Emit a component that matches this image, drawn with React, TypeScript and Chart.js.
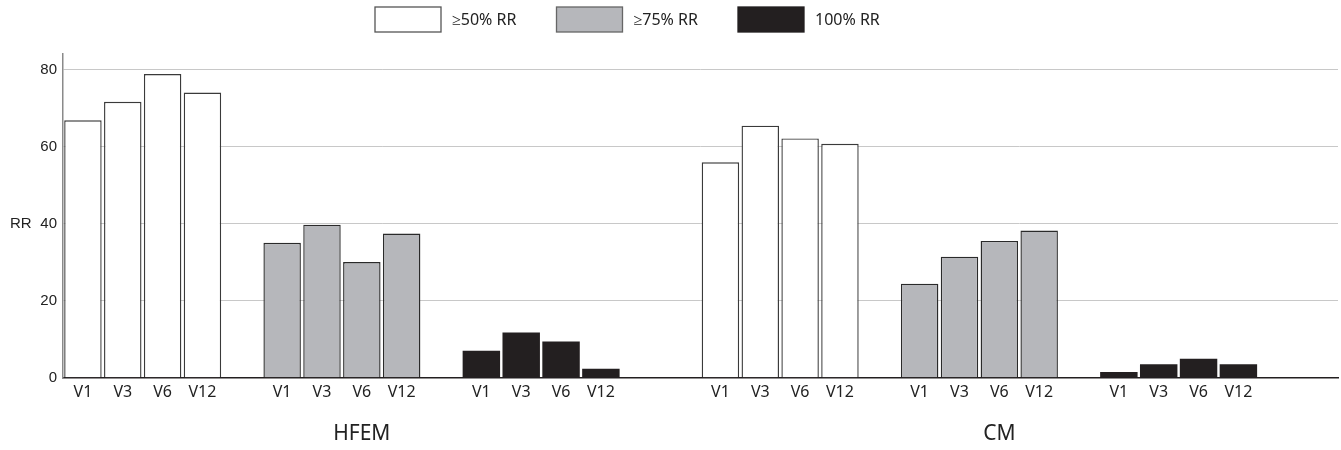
import React, { useEffect, useRef } from "react";
import { Chart, registerables } from "chart.js";

Chart.register(...registerables);

// ---- data ----
const groups = ["HFEM", "CM"];
const visits = ["V1", "V3", "V6", "V12"];
const seriesLabels = ["≥50% RR", "≥75% RR", "100% RR"];
const hfem50 = [66.8, 71.6, 78.8, 74.0];
const hfem75 = [35.0, 39.7, 30.0, 37.4];
const hfem100 = [7.0, 11.7, 9.4, 2.3];
const cm50 = [55.9, 65.4, 62.1, 60.7];
const cm75 = [24.4, 31.4, 35.5, 38.2];
const cm100 = [1.5, 3.5, 4.9, 3.5];
const yTicks = [0, 20, 40, 60, 80];
const yAxisTitle = "RR";

// ---- styles ----
const fills = ["#ffffff", "#b6b7bb", "#231f20"];
const borders = ["#3a3a3a", "#2a2a2a", "#231f20"];

// ---- build category slots (empty slots form the gaps) ----
const seriesValues = [
  [hfem50, cm50],
  [hfem75, cm75],
  [hfem100, cm100],
];
const labels: string[] = [];
const seriesData: (number | null)[][] = [[], [], []];
const groupSpans: { name: string; first: number; last: number }[] = [];
const pushGap = (n: number) => {
  for (let i = 0; i < n; i++) {
    labels.push("");
    seriesData.forEach((d) => d.push(null));
  }
};
groups.forEach((g, gi) => {
  if (gi > 0) pushGap(2);
  const first = labels.length;
  seriesLabels.forEach((_, si) => {
    if (si > 0) pushGap(1);
    visits.forEach((v, vi) => {
      labels.push(v);
      seriesData.forEach((d, di) => d.push(di === si ? seriesValues[si][gi][vi] : null));
    });
  });
  groupSpans.push({ name: g, first, last: labels.length - 1 });
});
pushGap(2);

const decorPlugin = {
  id: "decor",
  afterDraw(chart: any) {
    const ctx = chart.ctx;
    const x = chart.scales.x;
    const y = chart.scales.y;
    ctx.save();
    // legend
    const boxW = 66;
    const boxH = 25;
    const startX = 375;
    const pitch = 181.5;
    const top = 7;
    chart.data.datasets.forEach((ds: any, i: number) => {
      const bx = startX + i * pitch;
      ctx.fillStyle = ds.backgroundColor;
      ctx.fillRect(bx, top, boxW, boxH);
      ctx.lineWidth = 1.3;
      ctx.strokeStyle = i === 0 ? "#555" : i === 1 ? "#666" : ds.backgroundColor;
      ctx.strokeRect(bx, top, boxW, boxH);
      ctx.fillStyle = "#222";
      ctx.font = "16px 'Noto Sans'";
      ctx.textAlign = "left";
      ctx.textBaseline = "middle";
      ctx.fillText(ds.label, bx + boxW + 11, top + boxH / 2 + 1);
    });
    // y axis title (horizontal)
    ctx.font = "15px 'Liberation Sans'";
    ctx.fillStyle = "#222";
    ctx.textAlign = "left";
    ctx.textBaseline = "middle";
    ctx.fillText(yAxisTitle, 10, y.getPixelForValue(40));
    // group labels
    ctx.font = "21px 'Noto Sans'";
    ctx.textAlign = "center";
    groupSpans.forEach((gs) => {
      const cx = (x.getPixelForValue(gs.first) + x.getPixelForValue(gs.last + 1)) / 2;
      ctx.fillText(gs.name, cx, 434);
    });
    ctx.restore();
  },
};

export default function App() {
  const ref = useRef<HTMLCanvasElement | null>(null);
  useEffect(() => {
    document.body.style.margin = "0";
    if (!ref.current) return;
    const chart = new Chart(ref.current, {
      type: "bar",
      data: {
        labels,
        datasets: seriesLabels.map((lab, i) => ({
          label: lab,
          data: seriesData[i],
          backgroundColor: fills[i],
          borderColor: borders[i],
          borderWidth: i === 2 ? 0 : 1.4,
          grouped: false,
          barPercentage: 0.94,
          categoryPercentage: 1,
        })),
      },
      options: {
        responsive: false,
        animation: false,
        layout: { padding: { top: 54, right: 3, left: 0, bottom: 0 } },
        plugins: {
          legend: { display: false },
          tooltip: { enabled: false },
        },
        scales: {
          x: {
            type: "category",
            grid: { display: false, drawTicks: false },
            border: { display: true, color: "#231f20", width: 1.5 },
            ticks: {
              autoSkip: false,
              maxRotation: 0,
              minRotation: 0,
              padding: 5,
              color: "#222",
              font: { family: "'Noto Sans'", size: 16 },
            },
            afterFit: (s: any) => {
              s.height = 72.3;
            },
          },
          y: {
            min: 0,
            max: 84,
            grid: { color: "#c8c8c8", lineWidth: 1, drawTicks: false },
            border: { display: true, color: "#8a8a8a", width: 1.5 },
            ticks: {
              padding: 6,
              color: "#222",
              font: { family: "'Liberation Sans'", size: 15 },
            },
            afterBuildTicks: (s: any) => {
              s.ticks = yTicks.map((v) => ({ value: v }));
            },
            afterFit: (s: any) => {
              s.width = 63;
            },
          },
        },
      },
      plugins: [decorPlugin],
    });
    return () => chart.destroy();
  }, []);
  return (
    <div style={{ width: 1341, height: 450 }}>
      <canvas ref={ref} width={1341} height={450} />
    </div>
  );
}
